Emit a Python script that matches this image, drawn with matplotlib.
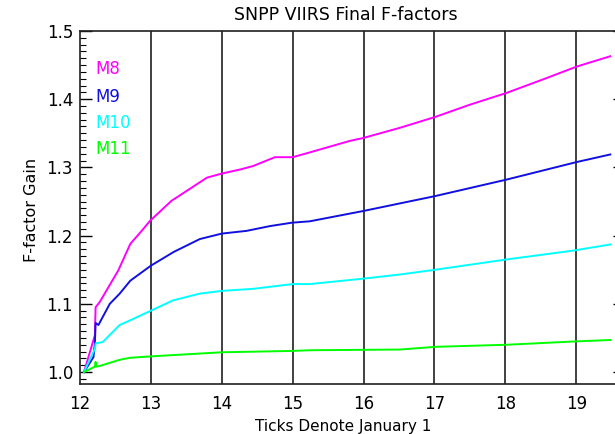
import matplotlib
matplotlib.use("Agg")
import matplotlib.pyplot as plt
from matplotlib.ticker import MultipleLocator

# band names and colours
bands = ["M8", "M9", "M10", "M11"]
colors = ["#ff00ff", "#1010e0", "#00ffff", "#00ff00"]

# time in years (tick = January 1 of 20xx) and F-factor gain per band
t_m8 = [12.056, 12.21, 12.22, 12.28, 12.54, 12.71, 12.87, 12.99, 13.29, 13.79,
        14.0, 14.26, 14.44, 14.75, 15.0, 15.24, 15.81, 15.99, 16.51, 17.01,
        17.5, 18.01, 18.53, 19.01, 19.48]
m8 = [1.0, 1.054, 1.095, 1.103, 1.149, 1.188, 1.207, 1.222, 1.251, 1.285,
      1.291, 1.297, 1.302, 1.315, 1.315, 1.322, 1.339, 1.343, 1.358, 1.374,
      1.392, 1.409, 1.429, 1.448, 1.463]

t_m9 = [12.056, 12.19, 12.21, 12.22, 12.26, 12.42, 12.56, 12.71, 13.0, 13.32,
        13.69, 14.0, 14.35, 14.68, 14.99, 15.24, 15.99, 17.01, 18.01, 19.01,
        19.48]
m9 = [1.0, 1.022, 1.042, 1.072, 1.069, 1.10, 1.115, 1.134, 1.156, 1.176,
      1.195, 1.203, 1.207, 1.214, 1.219, 1.221, 1.236, 1.258, 1.282, 1.308,
      1.319]

t_m10 = [12.056, 12.21, 12.22, 12.32, 12.56, 12.71, 13.0, 13.31, 13.69, 14.0,
         14.44, 15.0, 15.24, 16.0, 16.51, 17.01, 18.01, 18.95, 19.48]
m10 = [1.0, 1.034, 1.042, 1.044, 1.069, 1.076, 1.09, 1.105, 1.115, 1.119,
       1.122, 1.129, 1.129, 1.137, 1.143, 1.150, 1.165, 1.178, 1.187]

t_m11 = [12.056, 12.21, 12.22, 12.23, 12.28, 12.56, 12.71, 13.0, 14.0, 15.0,
         15.24, 16.51, 17.01, 18.01, 19.0, 19.48]
m11 = [1.0, 1.008, 1.015, 1.008, 1.009, 1.018, 1.021, 1.023, 1.029, 1.031,
       1.032, 1.033, 1.037, 1.040, 1.045, 1.047]

year_ticks = [12, 13, 14, 15, 16, 17, 18, 19]
gain_ticks = [1.0, 1.1, 1.2, 1.3, 1.4, 1.5]

plt.rcParams["font.family"] = ["DejaVu Sans"]

fig = plt.figure(figsize=(6.15, 4.34), dpi=100)
# right edge of the plot box runs just past the picture, as in the original
ax = fig.add_axes([80 / 615, 50 / 434, 545 / 615, 353 / 434])

series = [(t_m8, m8), (t_m9, m9), (t_m10, m10), (t_m11, m11)]
for (t, v), c in zip(series, colors):
    ax.plot(t, v, color=c, lw=1.4, zorder=3)

for yr in year_ticks[1:]:
    ax.axvline(yr, color="#202020", lw=1.2, zorder=2)

ax.set_xlim(12, 19.687)
ax.set_ylim(0.9825, 1.5)
ax.set_xticks(year_ticks)
ax.set_xticklabels([str(y) for y in year_ticks])
ax.set_yticks(gain_ticks)
ax.set_yticklabels(["%.1f" % g for g in gain_ticks])
ax.yaxis.set_minor_locator(MultipleLocator(0.01))

ax.tick_params(axis="x", which="both", length=0, pad=8, labelsize=12)
ax.tick_params(axis="y", which="major", direction="in", length=8.5,
               width=1, right=True, pad=5, labelsize=12)
ax.tick_params(axis="y", which="minor", direction="in", length=4.3,
               width=0.8, right=True)

for s in ax.spines.values():
    s.set_color("#202020")
    s.set_linewidth(1.2)

fig.text(346 / 615, 1 - 15 / 434, "SNPP VIIRS Final F-factors",
         ha="center", va="center", fontsize=12.5)
fig.text(343 / 615, 1 - 426 / 434, "Ticks Denote January 1",
         ha="center", va="center", fontsize=11)
fig.text(32 / 615, 1 - 210 / 434, "F-factor Gain", rotation=90,
         ha="center", va="center", fontsize=11.5)

label_y = [69, 97, 123, 149]
for name, c, yp in zip(bands, colors, label_y):
    fig.text(95 / 615, 1 - yp / 434, name, color=c, ha="left", va="center",
             fontsize=12)

fig.savefig("out.png", dpi=100)
